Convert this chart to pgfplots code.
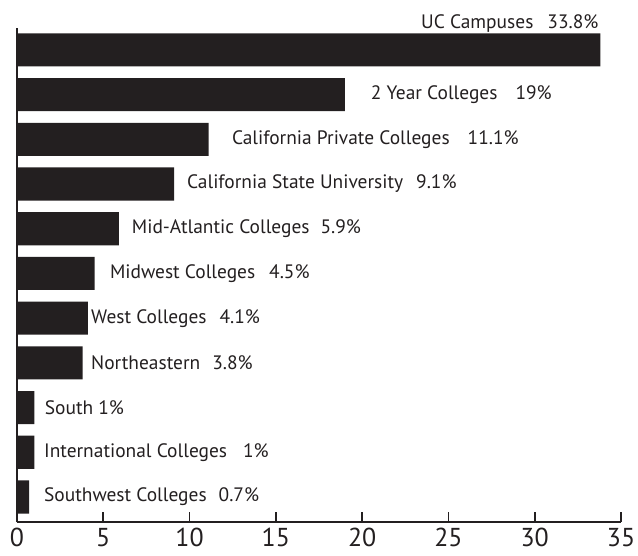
\documentclass[border=0pt]{standalone}
\usepackage{fontspec}
\setmainfont{PT Sans}
\usepackage{pgfplots}
\pgfplotsset{compat=1.18}
\definecolor{barc}{HTML}{231F20}
\begin{document}
\begin{tikzpicture}
\useasboundingbox (-17bp,-34bp) rectangle (621bp,522bp);
\begin{axis}[
  at={(0,0)}, anchor=south west,
  scale only axis,
  width=604bp, height=494bp,
  xmin=0, xmax=35, ymin=-0.56, ymax=10.49,
  axis x line=bottom, axis y line=left,
  axis line style={-, line width=1.6bp, color=barc},
  xtick={0,5,...,35}, ytick=\empty,
  tick align=inside, major tick length=10bp,
  tick style={line width=1.6bp, color=barc},
  /pgf/number format/assume math mode=true,
  xticklabel style={font=\fontsize{26}{26}\selectfont, color=barc, anchor=north, yshift=-6bp, inner sep=0bp},
  clip=false,
]
\addplot[xbar, bar width=0.74, fill=barc, draw=none] coordinates {
 (33.8,10) (19,9) (11.1,8) (9.1,7) (5.9,6) (4.5,5) (4.1,4) (3.8,3) (1,2) (1,1) (0.7,0)
};
\addplot[only marks, mark=none, point meta=explicit symbolic,
  nodes near coords, nodes near coords align={anchor=west},
  every node near coord/.append style={anchor=west, inner sep=0pt, font=\fontsize{19.5}{19.5}\selectfont, color=barc}]
coordinates {
 (20.5,9) [{2 Year Colleges\hspace{18bp}19\%}]
 (12.45,8) [{California Private Colleges\hspace{18bp}11.1\%}]
 (9.85,7) [{California State University\hspace{13bp}9.1\%}]
 (6.65,6) [{Mid-Atlantic Colleges\hspace{11bp}5.9\%}]
 (5.38,5) [{Midwest Colleges\hspace{14bp}4.5\%}]
 (4.29,4) [{West Colleges\hspace{13bp}4.1\%}]
 (4.29,3) [{Northeastern\hspace{12bp}3.8\%}]
 (1.6,2) [{South 1\%}]
 (1.56,1) [{International Colleges\hspace{16bp}1\%}]
 (1.56,0) [{Southwest Colleges\hspace{12bp}0.7\%}]
};
\addplot[only marks, mark=none, point meta=explicit symbolic,
  nodes near coords,
  every node near coord/.append style={anchor=east, inner sep=0pt, font=\fontsize{19.5}{19.5}\selectfont, color=barc}]
coordinates {
 (33.7,10.6) [{UC Campuses\hspace{14bp}33.8\%}]
};
\end{axis}
\end{tikzpicture}
\end{document}
